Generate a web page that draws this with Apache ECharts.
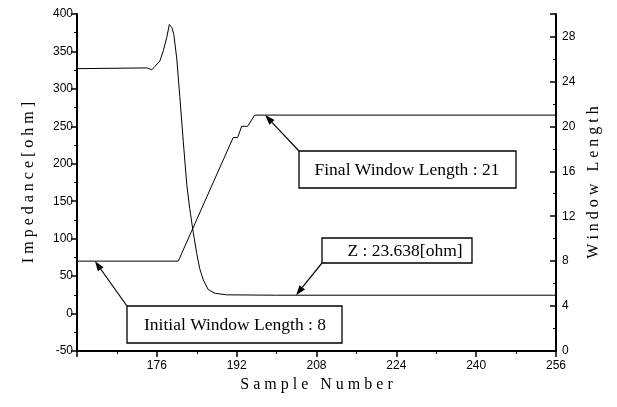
<!DOCTYPE html>
<html><head><meta charset="utf-8">
<script src="https://cdn.jsdelivr.net/npm/echarts@6/dist/echarts.min.js"></script>
<style>html,body{margin:0;padding:0;background:#fff}#c{width:617px;height:407px}</style>
</head><body><div id="c"></div>
<script>
// ---- data ----
const sampleTicks = [176, 192, 208, 224, 240, 256];
const impedanceLeftTicks = [-50, 0, 50, 100, 150, 200, 250, 300, 350, 400];
const windowRightTicks = [0, 4, 8, 12, 16, 20, 24, 28];

const impedanceSample = [160, 174, 175, 175.6, 176.6, 177.3, 178, 178.5, 179, 179.4, 180, 180.6, 181.3, 182, 182.6, 183.3, 184, 184.6, 185.3, 186.3, 187.7, 190, 200, 256];
const impedanceOhm    = [327, 328, 325.5, 330, 337, 351, 369, 386, 382, 373, 340, 290, 230, 172, 140, 108, 80, 60, 45, 32, 27, 25, 24.5, 24.5];

const windowSample = [160, 180.3, 187.3, 191.3, 192.2, 193, 194.2, 195.6, 256];
const windowLength = [8, 8, 15, 19, 19, 20, 20, 21, 21];

const annoText   = ['Final Window Length : 21', 'Z : 23.638[ohm]', 'Initial Window Length : 8'];
const annoSample = [197.7, 203.9, 163.6];
const annoValue  = [21, 24.5, 8];
const annoAxis   = [1, 0, 1];

const pairs = (xs, ys) => xs.map((x, i) => [x, ys[i]]);

const chart = echarts.init(document.getElementById('c'), null, {renderer: 'canvas'});
const black = '#000';
const tickFont = {color: black, fontFamily: 'Liberation Sans', fontSize: 12};
const nameFont = {color: black, fontFamily: 'Liberation Serif', fontSize: 16};

chart.setOption({
  animation: false,
  grid: {left: 77, right: 61, top: 14, bottom: 56},
  xAxis: {
    type: 'value', min: 160, max: 256, interval: 16,
    axisLine: {onZero: false, lineStyle: {color: black, width: 2}},
    axisTick: {length: 6, lineStyle: {color: black, width: 1.5}},
    minorTick: {show: true, splitNumber: 2, length: 3, lineStyle: {color: black, width: 1}},
    splitLine: {show: false},
    axisLabel: Object.assign({margin: 9, formatter: v => sampleTicks.includes(v) ? String(v) : ''}, tickFont),
    name: 'S a m p l e   N u m b e r', nameLocation: 'middle', nameGap: 24,
    nameTextStyle: nameFont
  },
  yAxis: [{
    type: 'value', min: -50, max: 400, interval: 50, position: 'left',
    axisLine: {show: true, onZero: false, lineStyle: {color: black, width: 2}},
    axisTick: {show: true, length: 6, lineStyle: {color: black, width: 1.5}},
    minorTick: {show: true, splitNumber: 2, length: 3, lineStyle: {color: black, width: 1}},
    splitLine: {show: false},
    axisLabel: Object.assign({margin: 4, formatter: v => impedanceLeftTicks.includes(v) ? String(v) : ''}, tickFont),
    name: 'I m p e d a n c e [ o h m ]', nameLocation: 'middle', nameGap: 40,
    nameTextStyle: nameFont
  }, {
    type: 'value', min: 0, max: 30, interval: 4, position: 'right',
    axisLine: {show: true, onZero: false, lineStyle: {color: black, width: 2}},
    axisTick: {show: true, inside: true, length: 6, lineStyle: {color: black, width: 1.5}},
    minorTick: {show: true, splitNumber: 2, length: 3, lineStyle: {color: black, width: 1}},
    splitLine: {show: false},
    axisLabel: Object.assign({margin: 6, formatter: v => windowRightTicks.includes(v) ? String(v) : ''}, tickFont),
    name: 'W i n d o w   L e n g t h', nameLocation: 'middle', nameGap: 30,
    nameRotate: 90,
    nameTextStyle: nameFont
  }],
  series: [{
    type: 'line', yAxisIndex: 0, data: pairs(impedanceSample, impedanceOhm),
    showSymbol: false, symbol: 'none', lineStyle: {color: black, width: 1}
  }, {
    type: 'line', yAxisIndex: 1, data: pairs(windowSample, windowLength),
    showSymbol: false, symbol: 'none', lineStyle: {color: black, width: 1}
  }]
});

// annotation boxes (layout in pixels), arrows point to data positions
const boxes = [
  {x: 299, y: 151, w: 217, h: 37, corner: [299, 151], tx: 407, ty: 170},
  {x: 322, y: 238, w: 150, h: 25, corner: [322, 263], tx: 405, ty: 251},
  {x: 127, y: 306, w: 215, h: 37, corner: [127, 306], tx: 235, ty: 325}
];
const graphics = [];
boxes.forEach((b, i) => {
  const tip = chart.convertToPixel({xAxisIndex: 0, yAxisIndex: annoAxis[i]}, [annoSample[i], annoValue[i]]);
  graphics.push({type: 'rect', shape: {x: b.x, y: b.y, width: b.w, height: b.h},
    style: {fill: '#fff', stroke: black, lineWidth: 1.3}, z: 10});
  graphics.push({type: 'text', x: b.tx, y: b.ty, z: 11,
    style: {text: annoText[i], fill: black, font: '17.5px "Liberation Serif"', align: 'center', verticalAlign: 'middle'}});
  const dx = tip[0] - b.corner[0], dy = tip[1] - b.corner[1];
  const len = Math.sqrt(dx * dx + dy * dy);
  const ux = dx / len, uy = dy / len;
  const hl = 10, hw = 3.5;
  const bx = tip[0] - ux * hl, by = tip[1] - uy * hl;
  graphics.push({type: 'line', shape: {x1: b.corner[0], y1: b.corner[1], x2: bx, y2: by},
    style: {stroke: black, lineWidth: 1.2}, z: 10});
  graphics.push({type: 'polygon', shape: {points: [tip, [bx - uy * hw, by + ux * hw], [bx + uy * hw, by - ux * hw]]},
    style: {fill: black}, z: 10});
});
chart.setOption({graphic: graphics});
</script>
</body></html>
